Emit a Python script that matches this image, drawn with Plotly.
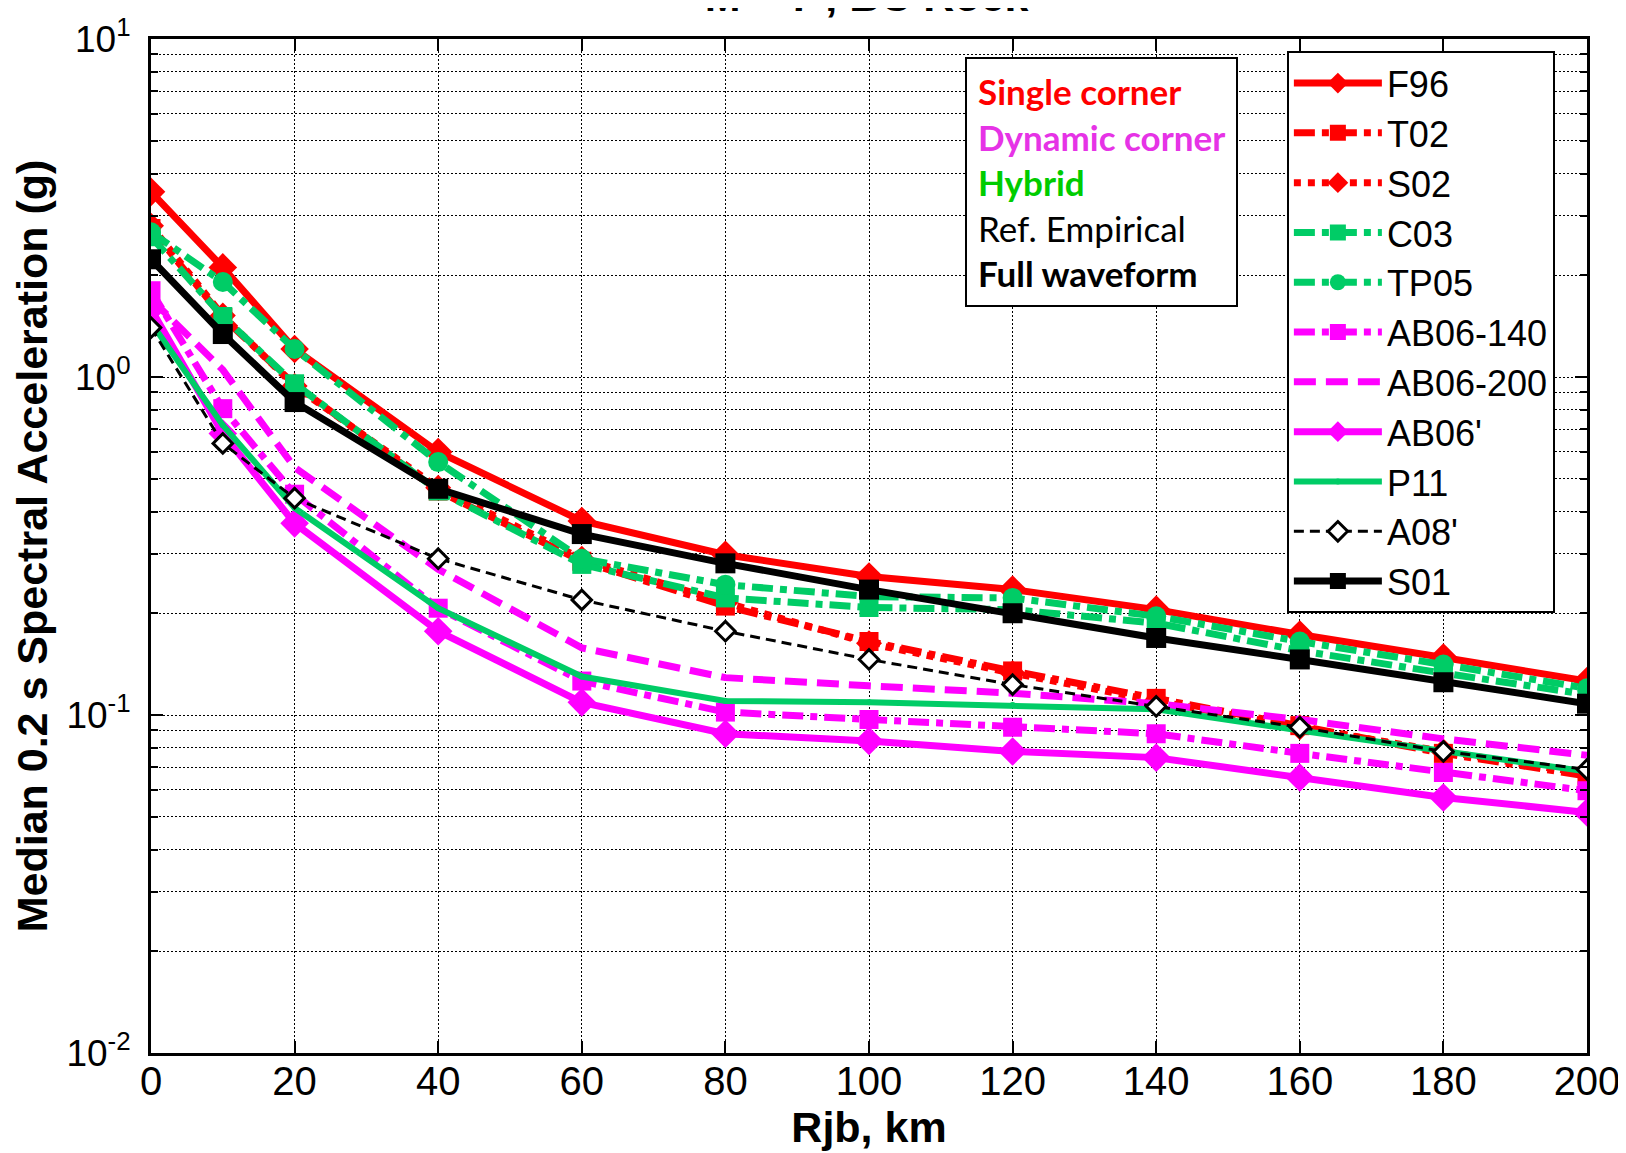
import plotly.graph_objects as go

rjb = [0, 10, 20, 40, 60, 80, 100, 120, 140, 160, 180, 200]

f96 = [3.53, 2.11, 1.21, 0.60, 0.375, 0.298, 0.257, 0.235, 0.205, 0.173, 0.148, 0.126]
t02 = [2.75, 1.50, 0.95, 0.46, 0.285, 0.210, 0.165, 0.135, 0.112, 0.093, 0.077, 0.066]
s02 = [2.80, 1.52, 0.94, 0.47, 0.290, 0.215, 0.163, 0.133, 0.110, 0.092, 0.078, 0.067]
c03 = [2.60, 1.51, 0.955, 0.46, 0.279, 0.222, 0.208, 0.205, 0.187, 0.155, 0.133, 0.115]
tp05 = [2.68, 1.91, 1.21, 0.56, 0.290, 0.243, 0.224, 0.222, 0.196, 0.165, 0.141, 0.120]
ab06_140 = [1.80, 0.806, 0.45, 0.207, 0.126, 0.102, 0.097, 0.092, 0.088, 0.077, 0.0676, 0.0597]
ab06_200 = [1.70, 1.05, 0.54, 0.27, 0.158, 0.129, 0.122, 0.116, 0.108, 0.097, 0.085, 0.076]
ab06p = [1.59, 0.68, 0.369, 0.177, 0.109, 0.088, 0.0838, 0.078, 0.0748, 0.0653, 0.057, 0.0515]
p11 = [1.45, 0.72, 0.41, 0.207, 0.130, 0.110, 0.109, 0.107, 0.104, 0.090, 0.078, 0.068]
a08p = [1.40, 0.636, 0.438, 0.290, 0.219, 0.177, 0.146, 0.123, 0.106, 0.092, 0.078, 0.069]
s01 = [2.23, 1.34, 0.843, 0.467, 0.343, 0.281, 0.235, 0.200, 0.169, 0.146, 0.125, 0.108]

x_ticks = [0, 20, 40, 60, 80, 100, 120, 140, 160, 180, 200]
y_ticks = [0.01, 0.1, 1, 10]
y_ticktext = ["10<sup>-2</sup>", "10<sup>-1</sup>", "10<sup>0</sup>", "10<sup>1</sup>"]
y_minor = [m * d for d in [0.01, 0.1, 1] for m in range(2, 10)]

RED = "#FF0000"
MAG = "#FF00FF"
GRN = "#00CC66"
BLK = "#000000"

series = [
    ("F96", f96, RED, "solid", 7, "diamond", 22, RED, RED),
    ("T02", t02, RED, "dashdot", 7, "square", 19, RED, RED),
    ("S02", s02, RED, "dot", 7, "diamond", 20, RED, RED),
    ("C03", c03, GRN, "dashdot", 7, "square", 19, GRN, GRN),
    ("TP05", tp05, GRN, "dashdot", 7, "circle", 20, GRN, GRN),
    ("AB06-140", ab06_140, MAG, "dashdot", 7, "square", 19, MAG, MAG),
    ("AB06-200", ab06_200, MAG, "22px,10px", 7, "circle", 1, MAG, MAG),
    ("AB06'", ab06p, MAG, "solid", 7, "diamond", 22, MAG, MAG),
    ("P11", p11, GRN, "solid", 6, "circle", 6, GRN, GRN),
    ("A08'", a08p, BLK, "10px,6px", 3, "diamond", 15, "white", BLK),
    ("S01", s01, BLK, "solid", 7, "square", 20, BLK, BLK),
]

fig = go.Figure()
for name, vals, col, dash, lw, sym, ms, fill, edge in series:
    fig.add_trace(go.Scatter(
        x=rjb, y=vals, name=name, mode="lines+markers",
        line=dict(color=col, dash=dash, width=lw),
        marker=dict(symbol=sym, size=ms, color=fill,
                    line=dict(color=edge, width=3 if fill == "white" else 0)),
    ))

FONT = "Liberation Sans, Arial, sans-serif"

fig.update_layout(
    width=1626, height=1153,
    paper_bgcolor="white", plot_bgcolor="white",
    margin=dict(l=143, r=47, t=31, b=108, autoexpand=False),
    font=dict(family=FONT, size=36, color="black"),
    title=dict(text="<b>M = 7 , BC Rock</b>", x=0.528, xanchor="center",
               y=1 - 3 / 1153, yanchor="bottom", yref="container",
               font=dict(size=43, family=FONT)),
    showlegend=True,
    legend=dict(x=0.791, y=0.988, xanchor="left", yanchor="top",
                bgcolor="white", bordercolor="black", borderwidth=2,
                font=dict(size=36, family=FONT), itemwidth=88,
                tracegroupgap=0),
    xaxis=dict(
        automargin=False,
        range=[0, 200], tickvals=x_ticks, ticks="inside", ticklen=12,
        tickwidth=2, tickcolor="black", mirror="allticks", showline=True,
        linecolor="black", linewidth=3, showgrid=True, gridcolor="black",
        gridwidth=1.2, griddash="2px,2px", zeroline=False,
        ticklabelstandoff=-9,
        tickfont=dict(size=40, family=FONT),
        title=dict(text="<b>Rjb, km</b>", font=dict(size=43, family=FONT), standoff=6),
    ),
    yaxis=dict(
        automargin=False,
        type="log", range=[-2, 1], tickvals=y_ticks, ticktext=y_ticktext,
        ticks="inside", ticklen=12, tickwidth=2, tickcolor="black",
        mirror="allticks", showline=True, linecolor="black", linewidth=3,
        showgrid=True, gridcolor="black", gridwidth=1.2, griddash="2px,2px",
        zeroline=False, ticklabelstandoff=10,
        tickfont=dict(size=37, family=FONT),
        minor=dict(tickvals=y_minor, ticks="inside", ticklen=7,
                   tickcolor="black", tickwidth=1.5, showgrid=True,
                   gridcolor="black", gridwidth=1.2, griddash="2px,2px"),
        title=dict(text="<b>Median 0.2 s Spectral Acceleration (g)</b>",
                   font=dict(size=43, family=FONT), standoff=8),
    ),
)

box_text = (
    '<span style="color:#FF0000"><b>Single corner</b></span><br>'
    '<span style="color:#E633E6"><b>Dynamic corner</b></span><br>'
    '<span style="color:#00CC00"><b>Hybrid</b></span><br>'
    '<span style="color:#000000">Ref. Empirical</span><br>'
    '<span style="color:#000000"><b>Full waveform</b></span>'
)
fig.add_annotation(
    text=box_text, xref="paper", yref="paper",
    x=0.567, y=0.982,
    xanchor="left", yanchor="top", align="left", showarrow=False,
    font=dict(family="Lato, Carlito, sans-serif", size=35, color="black"),
    bgcolor="white", bordercolor="black", borderwidth=2, borderpad=11,
)

fig.write_html("out.html")
